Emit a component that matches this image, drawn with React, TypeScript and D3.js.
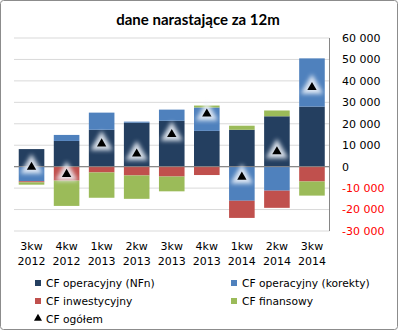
import React from "react";
import * as d3 from "d3";

const categories = ["3kw 2012", "4kw 2012", "1kw 2013", "2kw 2013", "3kw 2013", "4kw 2013", "1kw 2014", "2kw 2014", "3kw 2014"];
const cfNFn = [8200, 12000, 17200, 20500, 21400, 16700, 17200, 23500, 28000];
const cfKorekty = [-6800, 2800, 8000, 500, 5200, 10900, -15900, -11200, 22500];
const cfInwest = [-500, -6500, -2700, -4100, -4600, -3900, -8000, -8000, -6900];
const cfFinans = [-1100, -11800, -11800, -10900, -6900, 900, 1900, 2700, -6600];
const cfOgolem = cfNFn.map((v, i) => v + cfKorekty[i] + cfInwest[i] + cfFinans[i]);
const yTicks = [60000, 50000, 40000, 30000, 20000, 10000, 0, -10000, -20000, -30000];

const seriesNames = ["CF operacyjny (NFn)", "CF operacyjny (korekty)", "CF inwestycyjny", "CF finansowy"];
const colors = ["#243F60", "#4F81BD", "#C0504D", "#9BBB59"];

export default function App() {
  const W = 398, H = 330;
  const left = 14, right = 329.5, top = 38, bottom = 231;
  const x = d3.scaleBand().domain(categories).range([left, right]).paddingInner(0.27).paddingOuter(0.135);
  const y = d3.scaleLinear().domain([-30000, 60000]).range([bottom, top]);
  const rows = categories.map((c, i) => ({ cat: c, s0: cfNFn[i], s1: cfKorekty[i], s2: cfInwest[i], s3: cfFinans[i] }));
  const stack = d3.stack<any>().keys(["s0", "s1", "s2", "s3"]).offset(d3.stackOffsetDiverging);
  const layers = stack(rows);
  const fmt = (v: number) => {
    const s = Math.abs(v).toString().replace(/\B(?=(\d{3})+(?!\d))/g, " ");
    return (v < 0 ? "-" : "") + s;
  };
  const font = "DejaVu Sans, Verdana, sans-serif";
  const tri = d3.symbol().type(d3.symbolTriangle).size(38)();
  const triGlow = d3.symbol().type(d3.symbolTriangle).size(220)();
  return (
    <svg width={W} height={H} style={{ position: "absolute", left: 0, top: 0 }}>
      <defs>
        <filter id="glow" x="-1" y="-1" width="3" height="3">
          <feGaussianBlur stdDeviation="2.2" />
        </filter>
      </defs>
      <rect x={0.5} y={0.5} width={W - 1} height={H - 1} rx={3} fill="#fff" stroke="#8c8c8c" />
      <text x={198} y={25} textAnchor="middle" fontFamily="Lato, Carlito, sans-serif" fontWeight="bold" fontSize={15} fill="#000">
        dane narastające za 12m
      </text>
      {yTicks.map((t) => (
        <line key={"g" + t} x1={left} x2={right} y1={y(t)} y2={y(t)} stroke={t === 0 ? "#868686" : "#d9d9d9"} strokeWidth={1} />
      ))}
      {layers.map((layer, li) => (
        <g key={li} fill={colors[li]}>
          {layer.map((d, i) => (
            <rect key={i} x={x(categories[i])} width={x.bandwidth()} y={y(Math.max(d[0], d[1]))} height={Math.abs(y(d[0]) - y(d[1]))} />
          ))}
        </g>
      ))}
      <line x1={left} x2={right} y1={y(0)} y2={y(0)} stroke="#868686" />
      <line x1={right} x2={right} y1={top} y2={bottom} stroke="#868686" />
      {cfOgolem.map((v, i) => {
        const cx = (x(categories[i]) as number) + x.bandwidth() / 2;
        const cy = y(v);
        return (
          <g key={"m" + i} transform={`translate(${cx},${cy})`}>
            <path d={triGlow as string} fill="#eef3fa" opacity={0.9} filter="url(#glow)" />
            <path d={tri as string} fill="#000" />
          </g>
        );
      })}
      {yTicks.map((t) => (
        <text key={"t" + t} x={342} y={y(t)} dy="0.35em" fontFamily={font} fontSize={11} fill={t < 0 ? "#ff0000" : "#000"}>
          {fmt(t)}
        </text>
      ))}
      {categories.map((c, i) => {
        const cx = (x(c) as number) + x.bandwidth() / 2;
        const [a, b] = c.split(" ");
        return (
          <g key={"c" + i} fontFamily={font} fontSize={11} fill="#000" textAnchor="middle">
            <text x={cx} y={250}>{a}</text>
            <text x={cx} y={265}>{b}</text>
          </g>
        );
      })}
      {seriesNames.map((n, i) => {
        const lx = i % 2 === 0 ? 35 : 231;
        const ly = i < 2 ? 283 : 301;
        return (
          <g key={"l" + i}>
            <rect x={lx} y={ly - 3} width={6} height={6} fill={colors[i]} />
            <text x={lx + 11} y={ly} dy="0.35em" fontFamily={font} fontSize={10.7} fill="#000">{n}</text>
          </g>
        );
      })}
      <g>
        <path d={d3.symbol().type(d3.symbolTriangle).size(28)() as string} transform="translate(38,318.5)" fill="#000" />
        <text x={46} y={319} dy="0.35em" fontFamily={font} fontSize={10.7} fill="#000">CF ogółem</text>
      </g>
    </svg>
  );
}
